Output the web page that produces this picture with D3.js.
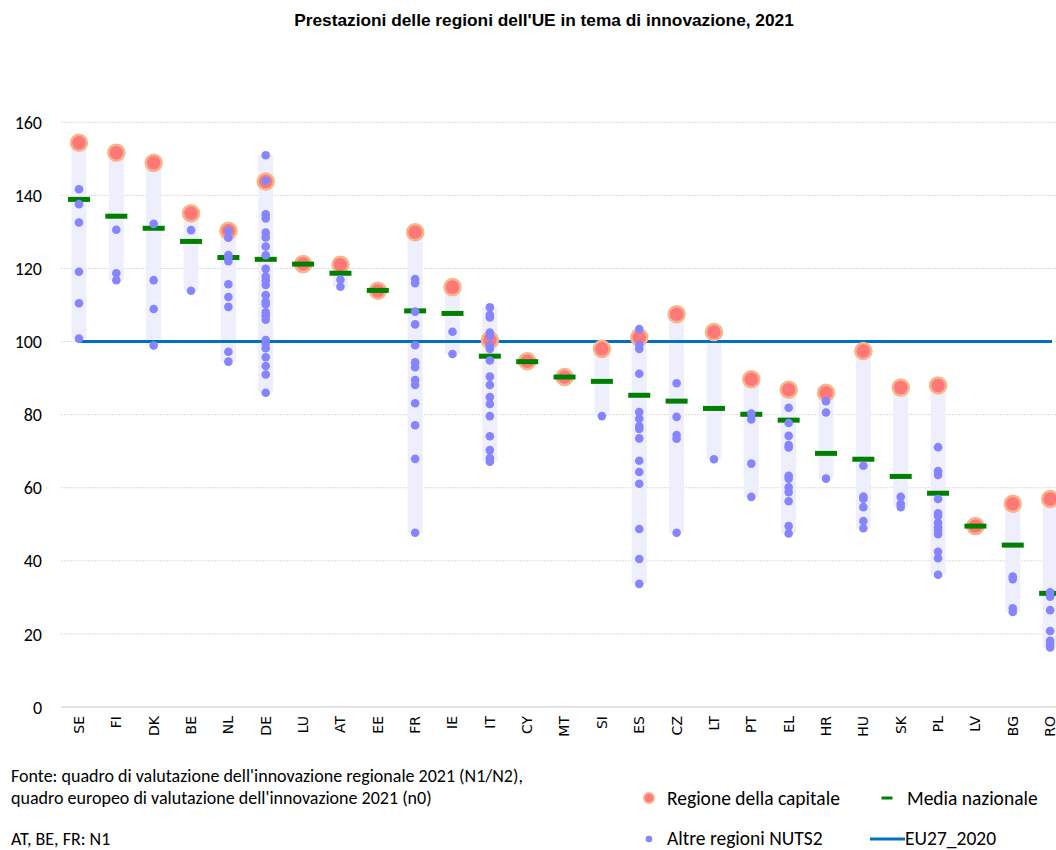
<!DOCTYPE html>
<html><head><meta charset="utf-8">
<script src="https://cdn.jsdelivr.net/npm/d3@7"></script>
<style>
html,body{margin:0;padding:0;background:#fff;overflow:hidden}
svg{display:block}
</style></head>
<body>
<svg id="chart" width="1056" height="850"></svg>
<script>
const categories = ["SE","FI","DK","BE","NL","DE","LU","AT","EE","FR","IE","IT","CY","MT","SI","ES","CZ","LT","PT","EL","HR","HU","SK","PL","LV","BG","RO"];
const capitalValues = [154.4,151.7,148.9,135.1,130.3,143.8,121.2,121.0,113.9,129.9,114.9,100.4,94.6,90.3,98.0,101.1,107.5,102.6,89.7,86.8,86.0,97.4,87.4,88.0,49.5,55.6,56.9];
const nationalMeans = [138.9,134.3,131.0,127.4,123.0,122.5,121.2,118.7,114.0,108.4,107.7,96.0,94.5,90.3,89.1,85.3,83.7,81.7,80.1,78.5,69.4,67.8,63.1,58.5,49.5,44.3,31.1];
const otherRegions = [
  [141.7,137.6,132.6,119.1,110.5,100.8],
  [130.6,118.7,116.8],
  [132.2,116.8,108.9,98.9],
  [130.5,113.9],
  [130.3,128.4,123.7,123.0,122.0,115.7,112.2,109.5,97.2,94.5],
  [151.0,144.0,134.8,133.7,129.8,128.5,126.0,123.6,119.9,117.8,116.7,115.5,112.7,110.9,110.2,108.0,107.1,106.0,100.4,99.5,98.2,95.7,93.3,91.0,86.0],
  [],
  [116.9,115.0],
  [],
  [117.1,116.0,108.2,104.7,99.0,94.3,93.0,89.5,88.1,83.1,77.1,67.9,47.7],
  [102.7,96.6],
  [109.4,107.3,106.6,102.5,101.5,98.9,98.0,94.8,90.4,88.1,84.8,82.9,79.6,74.1,70.3,68.1,67.1],
  [],
  [],
  [79.6],
  [103.4,99.1,98.0,91.2,80.7,78.9,76.9,76.1,73.5,67.4,64.3,61.1,48.7,40.5,33.7],
  [88.6,79.4,74.4,73.4,47.7],
  [67.8],
  [80.3,78.7,66.6,57.5],
  [81.9,77.7,74.2,71.7,71.0,63.3,62.5,60.1,58.8,56.3,49.5,47.5],
  [83.7,80.6,62.5],
  [66.0,57.6,57.0,54.7,50.9,48.9],
  [57.5,55.6,54.7],
  [71.1,64.6,63.5,56.9,53.0,52.3,50.4,49.2,48.3,47.3,42.5,40.7,36.2],
  [],
  [35.7,35.0,27.0,26.0],
  [31.4,30.2,26.5,20.8,18.1,17.2,16.3]
];
const euReference = 100;
const yTicks = [0,20,40,60,80,100,120,140,160];
const titleText = "Prestazioni delle regioni dell'UE in tema di innovazione, 2021";
const footnotes = ["Fonte: quadro di valutazione dell'innovazione regionale 2021 (N1/N2),","quadro europeo di valutazione dell'innovazione 2021 (n0)","AT, BE, FR: N1"];
const legendLabels = {capital:"Regione della capitale", mean:"Media nazionale", other:"Altre regioni NUTS2", eu:"EU27_2020"};

const svg = d3.select("#chart");
const sansC = "Carlito, Lato, 'Liberation Sans', sans-serif";

const x = d3.scaleBand().domain(categories).range([60.3, 1068.8]).padding(0);
const cx = d => x(d) + x.bandwidth()/2;
const y = d3.scaleLinear().domain([0,160]).range([707, 122.3]);

// title
svg.append("text").attr("x",544).attr("y",26).attr("text-anchor","middle")
  .attr("font-family","'Liberation Sans', Arial, sans-serif").attr("font-weight","bold")
  .attr("font-size","17.3px").attr("fill","#000").text(titleText);

// y axis labels + gridlines
const yAxis = d3.axisLeft(y).tickValues(yTicks).tickSize(0).tickPadding(0).tickFormat(d3.format("d"));
const gy = svg.append("g").attr("transform","translate(42,0)").call(yAxis);
gy.select(".domain").remove();
gy.selectAll("text").attr("font-family",sansC).attr("font-size","18px").attr("fill","#000").attr("dy","0.34em");
svg.append("g").selectAll("line").data(yTicks).join("line")
  .attr("x1",61).attr("x2",1056).attr("y1",d=>y(d)).attr("y2",d=>y(d))
  .attr("stroke", d=> d===0 ? "#D9D9D9" : "#DDDDDD")
  .attr("stroke-width", d=> d===0 ? 1.5 : 1)
  .attr("stroke-dasharray", d=> d===0 ? null : "2,1");

// x labels
const xAxis = d3.axisBottom(x).tickSize(0).tickPadding(0);
const gx = svg.append("g").attr("transform","translate(0,707)").call(xAxis);
gx.select(".domain").remove();
gx.selectAll("text")
  .attr("font-family","'DejaVu Sans', Verdana, sans-serif").attr("font-size","14px").attr("fill","#000")
  .attr("transform","rotate(-90)").attr("text-anchor","end").attr("x",-9).attr("y",0).attr("dy","0.35em");

// bands
const rows = categories.map((c,i)=>{
  const all = [capitalValues[i], nationalMeans[i], ...otherRegions[i]];
  return {c, max:d3.max(all), min:d3.min(all)};
});
svg.append("g").selectAll("rect").data(rows).join("rect")
  .attr("x",d=>cx(d.c)-7.5).attr("width",15)
  .attr("y",d=>y(d.max)).attr("height",d=>Math.max(0,y(d.min)-y(d.max)))
  .attr("fill","#EEEEFD");

// EU line
svg.append("line").attr("x1",cx(categories[0])).attr("x2",1052)
  .attr("y1",y(euReference)).attr("y2",y(euReference))
  .attr("stroke","#0070C0").attr("stroke-width",3);

// capital
svg.append("g").selectAll("circle").data(categories).join("circle")
  .attr("cx",d=>cx(d)).attr("cy",(d,i)=>y(capitalValues[i])).attr("r",8)
  .attr("fill","#FF7777").attr("stroke","#F8B58A").attr("stroke-width",2.5);

// mean
svg.append("g").selectAll("rect").data(categories).join("rect")
  .attr("x",d=>cx(d)-11).attr("width",22)
  .attr("y",(d,i)=>y(nationalMeans[i])-2.5).attr("height",5)
  .attr("fill","#008000");

// other regions
const pts = [];
categories.forEach((c,i)=>otherRegions[i].forEach(v=>pts.push({c,v})));
svg.append("g").selectAll("circle").data(pts).join("circle")
  .attr("cx",d=>cx(d.c)).attr("cy",d=>y(d.v)).attr("r",4.3)
  .attr("fill","#8585FF");

// footnotes
const fn = svg.append("g").attr("font-family",sansC).attr("font-size","18px").attr("fill","#000");
[[775.5,0],[798,1],[838.5,2]].forEach(([yy,k])=>fn.append("text").attr("x",11).attr("y",yy).attr("dy","0.35em").text(footnotes[k]));

// legend
const lg = svg.append("g").attr("font-family",sansC).attr("font-size","19.5px").attr("fill","#000");
lg.append("circle").attr("cx",649).attr("cy",798).attr("r",5).attr("fill","#FF7777").attr("stroke","#F8B58A").attr("stroke-width",2);
lg.append("text").attr("x",667).attr("y",798).attr("dy","0.35em").text(legendLabels.capital);
lg.append("rect").attr("x",881.5).attr("y",796.5).attr("width",11).attr("height",3).attr("fill","#008000");
lg.append("text").attr("x",907).attr("y",798).attr("dy","0.35em").text(legendLabels.mean);
lg.append("circle").attr("cx",649).attr("cy",839).attr("r",3.3).attr("fill","#8585FF");
lg.append("text").attr("x",667).attr("y",838.5).attr("dy","0.35em").text(legendLabels.other);
lg.append("line").attr("x1",870).attr("x2",905).attr("y1",839).attr("y2",839).attr("stroke","#0070C0").attr("stroke-width",3);
lg.append("text").attr("x",905).attr("y",838.5).attr("dy","0.35em").text(legendLabels.eu);
</script>
</body></html>
